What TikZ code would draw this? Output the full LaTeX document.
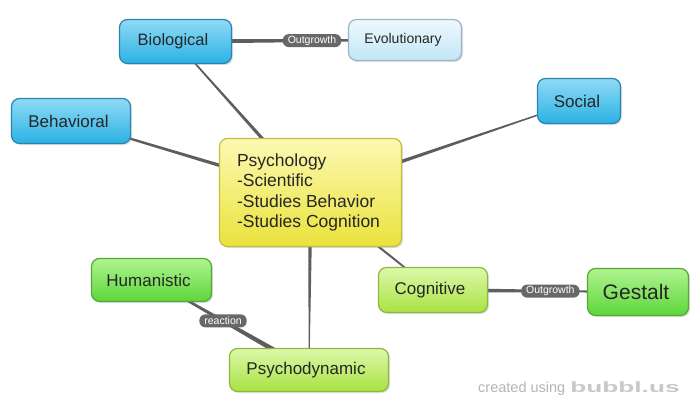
\documentclass[tikz,border=0pt]{standalone}
\usepackage{fontspec}
\setmainfont{Liberation Sans}
\usetikzlibrary{calc,shadows,backgrounds}
\definecolor{bluetop}{HTML}{8FDAF6}
\definecolor{bluebot}{HTML}{2AB2E4}
\definecolor{blueline}{HTML}{2B84AE}
\definecolor{paletop}{HTML}{EEF8FD}
\definecolor{palebot}{HTML}{C2E6F5}
\definecolor{paleline}{HTML}{98B6C6}
\definecolor{yeltop}{HTML}{FCF9B2}
\definecolor{yelbot}{HTML}{EAE23C}
\definecolor{yelline}{HTML}{C6BE3C}
\definecolor{grntop}{HTML}{B0F490}
\definecolor{grnbot}{HTML}{5CD63A}
\definecolor{grnline}{HTML}{58A63A}
\definecolor{limtop}{HTML}{DDF8AA}
\definecolor{limbot}{HTML}{A8E242}
\definecolor{limline}{HTML}{90B642}
\definecolor{linkgray}{HTML}{5E5E5E}
\definecolor{pillgray}{HTML}{686868}
\definecolor{markgray}{HTML}{B4B4B4}
\definecolor{logogray}{HTML}{C8C8C8}

\begin{document}
\begin{tikzpicture}[x=1pt, y=-1pt]
			\tikzset{bubble/.style={rectangle, rounded corners=8pt, line width=1.2pt, text=black!85,
					font=\fontsize{17}{20}\selectfont, inner sep=0pt,
					drop shadow={shadow xshift=1.5pt, shadow yshift=-1.5pt, opacity=0.25}},
				bluebox/.style={bubble, draw=blueline, top color=bluetop, bottom color=bluebot},
				palebox/.style={bubble, draw=paleline, top color=paletop, bottom color=palebot},
				yelbox/.style={bubble, draw=yelline, top color=yeltop, bottom color=yelbot},
				grnbox/.style={bubble, draw=grnline, top color=grntop, bottom color=grnbot},
				limbox/.style={bubble, draw=limline, top color=limtop, bottom color=limbot},
				pill/.style={rectangle, rounded corners=6pt, fill=pillgray, text=white,
					font=\fontsize{10.5}{12}\selectfont, inner xsep=5pt, inner ysep=1.5pt, minimum height=13pt},
				link/.style={fill=linkgray},
				taper/.style 2 args={to path={
						($(\tikztostart)!#1!90:(\tikztotarget)$) --
						($(\tikztotarget)!#2!-90:(\tikztostart)$) --
						($(\tikztotarget)!#2!90:(\tikztostart)$) --
						($(\tikztostart)!#1!-90:(\tikztotarget)$) -- cycle}}};
			\useasboundingbox (0,0) rectangle (700,409);

			\node[yelbox, minimum width=182pt, minimum height=108pt, align=left,
				font=\fontsize{17.5}{20.5}\selectfont] (psy) at (310.5,192.5)
				{Psychology\\-Scientific\\-Studies Behavior\\-Studies Cognition\hspace*{4pt}};
			\node[bluebox, minimum width=112pt, minimum height=44pt, font=\fontsize{16.5}{20}\selectfont] (bio) at (175.5,41.5) {Biological\hspace*{5pt}};
			\node[palebox, minimum width=113pt, minimum height=41pt, font=\fontsize{14}{17}\selectfont] (evo) at (405,40) {Evolutionary\hspace*{4pt}};
			\node[bluebox, minimum width=119pt, minimum height=45pt] (beh) at (71,121) {Behavioral\hspace*{5pt}};
			\node[bluebox, minimum width=83pt, minimum height=45pt] (soc) at (579,101) {Social\hspace*{4pt}};
			\node[grnbox, minimum width=120pt, minimum height=43pt] (hum) at (151.5,280) {Humanistic\hspace*{6pt}};
			\node[limbox, minimum width=109pt, minimum height=45pt] (cog) at (433,290) {Cognitive\hspace*{6pt}};
			\node[grnbox, minimum width=101pt, minimum height=47pt, font=\fontsize{21}{24}\selectfont] (ges) at (638,292) {Gestalt\hspace*{4pt}};
			\node[limbox, minimum width=159pt, minimum height=43pt] (pdy) at (309,370) {Psychodynamic\hspace*{6pt}};

			\begin{scope}[on background layer]
				\fill[link, taper={2.2pt}{0.6pt}] (psy) to (bio);
				\fill[link, taper={2.2pt}{0.8pt}] (psy) to (beh);
				\fill[link, taper={2.4pt}{0.4pt}] (psy) to (soc);
				\fill[link, taper={1.4pt}{0.8pt}] (psy) to (cog);
				\fill[link, taper={2.2pt}{0.4pt}] (psy) to (pdy);
				\fill[link, taper={2.2pt}{0.9pt}] (bio) to (evo);
				\fill[link, taper={2.2pt}{0.6pt}] (cog) to (ges);
				\fill[link, taper={2.8pt}{0.8pt}] (pdy) to (hum);
			\end{scope}

			\path (bio) -- node[pill, pos=0.69] (og1) {Outgrowth} (evo);
			\path (cog) -- node[pill, pos=0.63] (og2) {Outgrowth} (ges);
			\path (hum) -- node[pill, pos=0.41] (rea) {reaction} (pdy);

			\node[anchor=base west, inner sep=0pt, text=markgray, font=\fontsize{14.5}{16}\selectfont] (credit) at (478,392)
				{created using\hspace{5pt}\textcolor{logogray}{\scalebox{1.75}[1]{\fontsize{15}{15}\selectfont\bfseries bubbl.us}}};
		\end{tikzpicture}
\end{document}
